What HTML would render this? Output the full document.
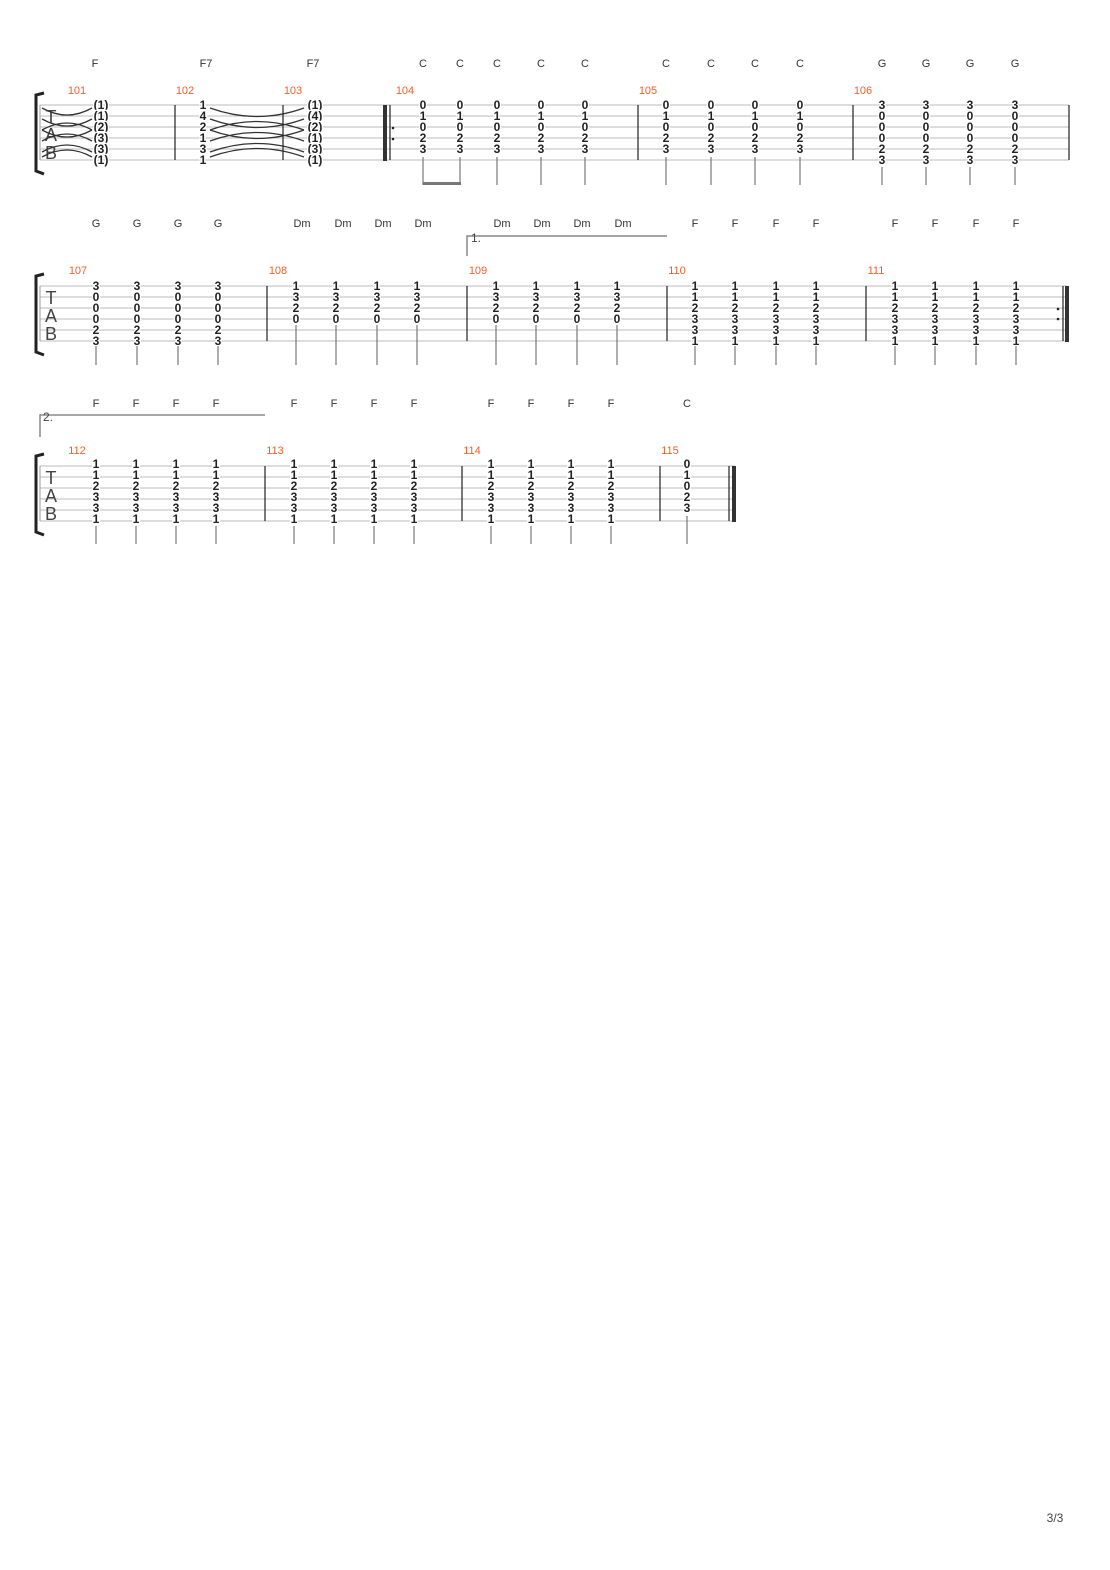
<!DOCTYPE html>
<html><head><meta charset="utf-8"><style>
html,body{margin:0;padding:0;background:#fff}
svg{display:block}
.c{font:11px "Liberation Sans",sans-serif;fill:#333;text-anchor:middle}
.m{font:11px "Liberation Sans",sans-serif;fill:#f0602a;text-anchor:middle}
.n{font:bold 12px "Liberation Sans",sans-serif;fill:#222;text-anchor:middle;stroke:#fff;stroke-width:2.5px;paint-order:stroke}
.t{font:18px "Liberation Sans",sans-serif;fill:#444;text-anchor:middle}
.l{stroke:#bbb;stroke-width:1}
.b{stroke:#222;stroke-width:1.2}
.s{stroke:#777;stroke-width:1.2}
.v{stroke:#888;stroke-width:1.5;fill:none}
.cv{stroke:#333;stroke-width:1.3;fill:none}
</style></head><body>
<svg width="1110" height="1570" viewBox="0 0 1110 1570" xmlns="http://www.w3.org/2000/svg">
<!-- ===== SYSTEM 1 ===== -->
<g>
<line class="l" x1="40" y1="105" x2="1069" y2="105"/><line class="l" x1="40" y1="116" x2="1069" y2="116"/><line class="l" x1="40" y1="127" x2="1069" y2="127"/><line class="l" x1="40" y1="138" x2="1069" y2="138"/><line class="l" x1="40" y1="149" x2="1069" y2="149"/><line class="l" x1="40" y1="160" x2="1069" y2="160"/>
<path d="M44 93 L36 95 L36 171 L44 174" stroke="#222" stroke-width="3" fill="none"/>
<line x1="40" y1="105" x2="40" y2="160" stroke="#999"/>
<text class="t" x="51" y="123">T</text><text class="t" x="51" y="141">A</text><text class="t" x="51" y="159">B</text>
<path class="cv" d="M42 108 Q67 122 92 108 M42 119 Q67 133 92 119 M42 130 Q67 116 92 130 M42 130 Q67 144 92 130 M42 141 Q67 127 92 141 M42 152 Q67 138 92 152 M42 157 Q67 143 92 157" />
<path class="cv" d="M210 108 Q257 125 304 108 M210 119 Q257 136 304 119 M210 130 Q257 113 304 130 M210 130 Q257 147 304 130 M210 141 Q257 124 304 141 M210 152 Q257 135 304 152 M210 157 Q257 140 304 157"/>
<line class="b" x1="175" y1="105" x2="175" y2="160"/><line class="b" x1="283" y1="105" x2="283" y2="160"/>
<rect x="383" y="105" width="4" height="56" fill="#333"/><line class="b" x1="390" y1="105" x2="390" y2="160"/>
<circle cx="393" cy="128" r="1.3" fill="#222"/><circle cx="393" cy="139" r="1.3" fill="#222"/>
<line class="b" x1="638" y1="105" x2="638" y2="160"/><line class="b" x1="853" y1="105" x2="853" y2="160"/><line class="b" x1="1069" y1="105" x2="1069" y2="160"/>
<text class="m" x="77" y="94">101</text><text class="m" x="185" y="94">102</text><text class="m" x="293" y="94">103</text><text class="m" x="405" y="94">104</text><text class="m" x="648" y="94">105</text><text class="m" x="863" y="94">106</text>
<text class="c" x="95" y="67">F</text><text class="c" x="206" y="67">F7</text><text class="c" x="313" y="67">F7</text>
<text class="c" x="423" y="67">C</text><text class="c" x="460" y="67">C</text><text class="c" x="497" y="67">C</text><text class="c" x="541" y="67">C</text><text class="c" x="585" y="67">C</text>
<text class="c" x="666" y="67">C</text><text class="c" x="711" y="67">C</text><text class="c" x="755" y="67">C</text><text class="c" x="800" y="67">C</text>
<text class="c" x="882" y="67">G</text><text class="c" x="926" y="67">G</text><text class="c" x="970" y="67">G</text><text class="c" x="1015" y="67">G</text>
<!-- m101 -->
<text class="n" x="101" y="109">(1)</text><text class="n" x="101" y="120">(1)</text><text class="n" x="101" y="131">(2)</text><text class="n" x="101" y="142">(3)</text><text class="n" x="101" y="153">(3)</text><text class="n" x="101" y="164">(1)</text>
<text class="n" x="203" y="109">1</text><text class="n" x="203" y="120">4</text><text class="n" x="203" y="131">2</text><text class="n" x="203" y="142">1</text><text class="n" x="203" y="153">3</text><text class="n" x="203" y="164">1</text>
<text class="n" x="315" y="109">(1)</text><text class="n" x="315" y="120">(4)</text><text class="n" x="315" y="131">(2)</text><text class="n" x="315" y="142">(1)</text><text class="n" x="315" y="153">(3)</text><text class="n" x="315" y="164">(1)</text>
<!-- m104 / 105 -->
<g id="cA">
<text class="n" x="423" y="109">0</text><text class="n" x="423" y="120">1</text><text class="n" x="423" y="131">0</text><text class="n" x="423" y="142">2</text><text class="n" x="423" y="153">3</text>
<text class="n" x="460" y="109">0</text><text class="n" x="460" y="120">1</text><text class="n" x="460" y="131">0</text><text class="n" x="460" y="142">2</text><text class="n" x="460" y="153">3</text>
<text class="n" x="497" y="109">0</text><text class="n" x="497" y="120">1</text><text class="n" x="497" y="131">0</text><text class="n" x="497" y="142">2</text><text class="n" x="497" y="153">3</text>
<text class="n" x="541" y="109">0</text><text class="n" x="541" y="120">1</text><text class="n" x="541" y="131">0</text><text class="n" x="541" y="142">2</text><text class="n" x="541" y="153">3</text>
<text class="n" x="585" y="109">0</text><text class="n" x="585" y="120">1</text><text class="n" x="585" y="131">0</text><text class="n" x="585" y="142">2</text><text class="n" x="585" y="153">3</text>
<text class="n" x="666" y="109">0</text><text class="n" x="666" y="120">1</text><text class="n" x="666" y="131">0</text><text class="n" x="666" y="142">2</text><text class="n" x="666" y="153">3</text>
<text class="n" x="711" y="109">0</text><text class="n" x="711" y="120">1</text><text class="n" x="711" y="131">0</text><text class="n" x="711" y="142">2</text><text class="n" x="711" y="153">3</text>
<text class="n" x="755" y="109">0</text><text class="n" x="755" y="120">1</text><text class="n" x="755" y="131">0</text><text class="n" x="755" y="142">2</text><text class="n" x="755" y="153">3</text>
<text class="n" x="800" y="109">0</text><text class="n" x="800" y="120">1</text><text class="n" x="800" y="131">0</text><text class="n" x="800" y="142">2</text><text class="n" x="800" y="153">3</text>
</g>
<line class="s" x1="423" y1="157" x2="423" y2="185"/><line class="s" x1="460" y1="157" x2="460" y2="185"/>
<rect x="423" y="182" width="38" height="3" fill="#777"/>
<line class="s" x1="497" y1="157" x2="497" y2="185"/><line class="s" x1="541" y1="157" x2="541" y2="185"/><line class="s" x1="585" y1="157" x2="585" y2="185"/>
<line class="s" x1="666" y1="157" x2="666" y2="185"/><line class="s" x1="711" y1="157" x2="711" y2="185"/><line class="s" x1="755" y1="157" x2="755" y2="185"/><line class="s" x1="800" y1="157" x2="800" y2="185"/>
<!-- m106 -->
<text class="n" x="882" y="109">3</text><text class="n" x="882" y="120">0</text><text class="n" x="882" y="131">0</text><text class="n" x="882" y="142">0</text><text class="n" x="882" y="153">2</text><text class="n" x="882" y="164">3</text>
<text class="n" x="926" y="109">3</text><text class="n" x="926" y="120">0</text><text class="n" x="926" y="131">0</text><text class="n" x="926" y="142">0</text><text class="n" x="926" y="153">2</text><text class="n" x="926" y="164">3</text>
<text class="n" x="970" y="109">3</text><text class="n" x="970" y="120">0</text><text class="n" x="970" y="131">0</text><text class="n" x="970" y="142">0</text><text class="n" x="970" y="153">2</text><text class="n" x="970" y="164">3</text>
<text class="n" x="1015" y="109">3</text><text class="n" x="1015" y="120">0</text><text class="n" x="1015" y="131">0</text><text class="n" x="1015" y="142">0</text><text class="n" x="1015" y="153">2</text><text class="n" x="1015" y="164">3</text>
<line class="s" x1="882" y1="167" x2="882" y2="185"/><line class="s" x1="926" y1="167" x2="926" y2="185"/><line class="s" x1="970" y1="167" x2="970" y2="185"/><line class="s" x1="1015" y1="167" x2="1015" y2="185"/>
</g>

<!-- ===== SYSTEM 2 ===== -->
<g>
<line class="l" x1="40" y1="286" x2="1067" y2="286"/><line class="l" x1="40" y1="297" x2="1067" y2="297"/><line class="l" x1="40" y1="308" x2="1067" y2="308"/><line class="l" x1="40" y1="319" x2="1067" y2="319"/><line class="l" x1="40" y1="330" x2="1067" y2="330"/><line class="l" x1="40" y1="341" x2="1067" y2="341"/>
<path d="M44 274 L36 276 L36 352 L44 355" stroke="#222" stroke-width="3" fill="none"/>
<line x1="40" y1="286" x2="40" y2="341" stroke="#999"/>
<text class="t" x="51" y="304">T</text><text class="t" x="51" y="322">A</text><text class="t" x="51" y="340">B</text>
<line class="b" x1="267" y1="286" x2="267" y2="341"/><line class="b" x1="467" y1="286" x2="467" y2="341"/><line class="b" x1="667" y1="286" x2="667" y2="341"/><line class="b" x1="866" y1="286" x2="866" y2="341"/>
<circle cx="1058" cy="309" r="1.3" fill="#222"/><circle cx="1058" cy="319" r="1.3" fill="#222"/>
<line class="b" x1="1063" y1="286" x2="1063" y2="341" stroke="#888"/><rect x="1065" y="286" width="4" height="56" fill="#333"/>
<text class="m" x="78" y="274">107</text><text class="m" x="278" y="274">108</text><text class="m" x="478" y="274">109</text><text class="m" x="677" y="274">110</text><text class="m" x="876" y="274">111</text>
<text class="c" x="96" y="227">G</text><text class="c" x="137" y="227">G</text><text class="c" x="178" y="227">G</text><text class="c" x="218" y="227">G</text>
<text class="c" x="302" y="227">Dm</text><text class="c" x="343" y="227">Dm</text><text class="c" x="383" y="227">Dm</text><text class="c" x="423" y="227">Dm</text>
<text class="c" x="502" y="227">Dm</text><text class="c" x="542" y="227">Dm</text><text class="c" x="582" y="227">Dm</text><text class="c" x="623" y="227">Dm</text>
<text class="c" x="695" y="227">F</text><text class="c" x="735" y="227">F</text><text class="c" x="776" y="227">F</text><text class="c" x="816" y="227">F</text>
<text class="c" x="895" y="227">F</text><text class="c" x="935" y="227">F</text><text class="c" x="976" y="227">F</text><text class="c" x="1016" y="227">F</text>
<path class="v" d="M467 256 L467 236 L667 236"/><text x="471" y="242" font-family="Liberation Sans,sans-serif" font-size="12" fill="#444">1.</text>
<!-- m107 -->
<text class="n" x="96" y="290">3</text><text class="n" x="96" y="301">0</text><text class="n" x="96" y="312">0</text><text class="n" x="96" y="323">0</text><text class="n" x="96" y="334">2</text><text class="n" x="96" y="345">3</text>
<text class="n" x="137" y="290">3</text><text class="n" x="137" y="301">0</text><text class="n" x="137" y="312">0</text><text class="n" x="137" y="323">0</text><text class="n" x="137" y="334">2</text><text class="n" x="137" y="345">3</text>
<text class="n" x="178" y="290">3</text><text class="n" x="178" y="301">0</text><text class="n" x="178" y="312">0</text><text class="n" x="178" y="323">0</text><text class="n" x="178" y="334">2</text><text class="n" x="178" y="345">3</text>
<text class="n" x="218" y="290">3</text><text class="n" x="218" y="301">0</text><text class="n" x="218" y="312">0</text><text class="n" x="218" y="323">0</text><text class="n" x="218" y="334">2</text><text class="n" x="218" y="345">3</text>
<line class="s" x1="96" y1="346" x2="96" y2="365"/><line class="s" x1="137" y1="346" x2="137" y2="365"/><line class="s" x1="178" y1="346" x2="178" y2="365"/><line class="s" x1="218" y1="346" x2="218" y2="365"/>
<!-- m108/109 -->
<text class="n" x="296" y="290">1</text><text class="n" x="296" y="301">3</text><text class="n" x="296" y="312">2</text><text class="n" x="296" y="323">0</text>
<text class="n" x="336" y="290">1</text><text class="n" x="336" y="301">3</text><text class="n" x="336" y="312">2</text><text class="n" x="336" y="323">0</text>
<text class="n" x="377" y="290">1</text><text class="n" x="377" y="301">3</text><text class="n" x="377" y="312">2</text><text class="n" x="377" y="323">0</text>
<text class="n" x="417" y="290">1</text><text class="n" x="417" y="301">3</text><text class="n" x="417" y="312">2</text><text class="n" x="417" y="323">0</text>
<text class="n" x="496" y="290">1</text><text class="n" x="496" y="301">3</text><text class="n" x="496" y="312">2</text><text class="n" x="496" y="323">0</text>
<text class="n" x="536" y="290">1</text><text class="n" x="536" y="301">3</text><text class="n" x="536" y="312">2</text><text class="n" x="536" y="323">0</text>
<text class="n" x="577" y="290">1</text><text class="n" x="577" y="301">3</text><text class="n" x="577" y="312">2</text><text class="n" x="577" y="323">0</text>
<text class="n" x="617" y="290">1</text><text class="n" x="617" y="301">3</text><text class="n" x="617" y="312">2</text><text class="n" x="617" y="323">0</text>
<line class="s" x1="296" y1="325" x2="296" y2="365"/><line class="s" x1="336" y1="325" x2="336" y2="365"/><line class="s" x1="377" y1="325" x2="377" y2="365"/><line class="s" x1="417" y1="325" x2="417" y2="365"/>
<line class="s" x1="496" y1="325" x2="496" y2="365"/><line class="s" x1="536" y1="325" x2="536" y2="365"/><line class="s" x1="577" y1="325" x2="577" y2="365"/><line class="s" x1="617" y1="325" x2="617" y2="365"/>
<!-- m110/111 -->
<text class="n" x="695" y="290">1</text><text class="n" x="695" y="301">1</text><text class="n" x="695" y="312">2</text><text class="n" x="695" y="323">3</text><text class="n" x="695" y="334">3</text><text class="n" x="695" y="345">1</text>
<text class="n" x="735" y="290">1</text><text class="n" x="735" y="301">1</text><text class="n" x="735" y="312">2</text><text class="n" x="735" y="323">3</text><text class="n" x="735" y="334">3</text><text class="n" x="735" y="345">1</text>
<text class="n" x="776" y="290">1</text><text class="n" x="776" y="301">1</text><text class="n" x="776" y="312">2</text><text class="n" x="776" y="323">3</text><text class="n" x="776" y="334">3</text><text class="n" x="776" y="345">1</text>
<text class="n" x="816" y="290">1</text><text class="n" x="816" y="301">1</text><text class="n" x="816" y="312">2</text><text class="n" x="816" y="323">3</text><text class="n" x="816" y="334">3</text><text class="n" x="816" y="345">1</text>
<text class="n" x="895" y="290">1</text><text class="n" x="895" y="301">1</text><text class="n" x="895" y="312">2</text><text class="n" x="895" y="323">3</text><text class="n" x="895" y="334">3</text><text class="n" x="895" y="345">1</text>
<text class="n" x="935" y="290">1</text><text class="n" x="935" y="301">1</text><text class="n" x="935" y="312">2</text><text class="n" x="935" y="323">3</text><text class="n" x="935" y="334">3</text><text class="n" x="935" y="345">1</text>
<text class="n" x="976" y="290">1</text><text class="n" x="976" y="301">1</text><text class="n" x="976" y="312">2</text><text class="n" x="976" y="323">3</text><text class="n" x="976" y="334">3</text><text class="n" x="976" y="345">1</text>
<text class="n" x="1016" y="290">1</text><text class="n" x="1016" y="301">1</text><text class="n" x="1016" y="312">2</text><text class="n" x="1016" y="323">3</text><text class="n" x="1016" y="334">3</text><text class="n" x="1016" y="345">1</text>
<line class="s" x1="695" y1="346" x2="695" y2="365"/><line class="s" x1="735" y1="346" x2="735" y2="365"/><line class="s" x1="776" y1="346" x2="776" y2="365"/><line class="s" x1="816" y1="346" x2="816" y2="365"/>
<line class="s" x1="895" y1="346" x2="895" y2="365"/><line class="s" x1="935" y1="346" x2="935" y2="365"/><line class="s" x1="976" y1="346" x2="976" y2="365"/><line class="s" x1="1016" y1="346" x2="1016" y2="365"/>
</g>

<!-- ===== SYSTEM 3 ===== -->
<g>
<line class="l" x1="40" y1="466" x2="735" y2="466"/><line class="l" x1="40" y1="477" x2="735" y2="477"/><line class="l" x1="40" y1="488" x2="735" y2="488"/><line class="l" x1="40" y1="499" x2="735" y2="499"/><line class="l" x1="40" y1="510" x2="735" y2="510"/><line class="l" x1="40" y1="521" x2="735" y2="521"/>
<path d="M44 454 L36 456 L36 532 L44 535" stroke="#222" stroke-width="3" fill="none"/>
<line x1="40" y1="466" x2="40" y2="521" stroke="#999"/>
<text class="t" x="51" y="484">T</text><text class="t" x="51" y="502">A</text><text class="t" x="51" y="520">B</text>
<line class="b" x1="265" y1="466" x2="265" y2="521"/><line class="b" x1="462" y1="466" x2="462" y2="521"/><line class="b" x1="660" y1="466" x2="660" y2="521"/>
<line class="b" x1="729" y1="466" x2="729" y2="521"/><rect x="732" y="466" width="4" height="56" fill="#333"/>
<text class="m" x="77" y="454">112</text><text class="m" x="275" y="454">113</text><text class="m" x="472" y="454">114</text><text class="m" x="670" y="454">115</text>
<path class="v" d="M40 437 L40 415 L265 415"/><text x="43" y="421" font-family="Liberation Sans,sans-serif" font-size="12" fill="#444">2.</text>
<text class="c" x="96" y="407">F</text><text class="c" x="136" y="407">F</text><text class="c" x="176" y="407">F</text><text class="c" x="216" y="407">F</text>
<text class="c" x="294" y="407">F</text><text class="c" x="334" y="407">F</text><text class="c" x="374" y="407">F</text><text class="c" x="414" y="407">F</text>
<text class="c" x="491" y="407">F</text><text class="c" x="531" y="407">F</text><text class="c" x="571" y="407">F</text><text class="c" x="611" y="407">F</text>
<text class="c" x="687" y="407">C</text>
<text class="n" x="96" y="468">1</text><text class="n" x="96" y="479">1</text><text class="n" x="96" y="490">2</text><text class="n" x="96" y="501">3</text><text class="n" x="96" y="512">3</text><text class="n" x="96" y="523">1</text>
<text class="n" x="136" y="468">1</text><text class="n" x="136" y="479">1</text><text class="n" x="136" y="490">2</text><text class="n" x="136" y="501">3</text><text class="n" x="136" y="512">3</text><text class="n" x="136" y="523">1</text>
<text class="n" x="176" y="468">1</text><text class="n" x="176" y="479">1</text><text class="n" x="176" y="490">2</text><text class="n" x="176" y="501">3</text><text class="n" x="176" y="512">3</text><text class="n" x="176" y="523">1</text>
<text class="n" x="216" y="468">1</text><text class="n" x="216" y="479">1</text><text class="n" x="216" y="490">2</text><text class="n" x="216" y="501">3</text><text class="n" x="216" y="512">3</text><text class="n" x="216" y="523">1</text>
<text class="n" x="294" y="468">1</text><text class="n" x="294" y="479">1</text><text class="n" x="294" y="490">2</text><text class="n" x="294" y="501">3</text><text class="n" x="294" y="512">3</text><text class="n" x="294" y="523">1</text>
<text class="n" x="334" y="468">1</text><text class="n" x="334" y="479">1</text><text class="n" x="334" y="490">2</text><text class="n" x="334" y="501">3</text><text class="n" x="334" y="512">3</text><text class="n" x="334" y="523">1</text>
<text class="n" x="374" y="468">1</text><text class="n" x="374" y="479">1</text><text class="n" x="374" y="490">2</text><text class="n" x="374" y="501">3</text><text class="n" x="374" y="512">3</text><text class="n" x="374" y="523">1</text>
<text class="n" x="414" y="468">1</text><text class="n" x="414" y="479">1</text><text class="n" x="414" y="490">2</text><text class="n" x="414" y="501">3</text><text class="n" x="414" y="512">3</text><text class="n" x="414" y="523">1</text>
<text class="n" x="491" y="468">1</text><text class="n" x="491" y="479">1</text><text class="n" x="491" y="490">2</text><text class="n" x="491" y="501">3</text><text class="n" x="491" y="512">3</text><text class="n" x="491" y="523">1</text>
<text class="n" x="531" y="468">1</text><text class="n" x="531" y="479">1</text><text class="n" x="531" y="490">2</text><text class="n" x="531" y="501">3</text><text class="n" x="531" y="512">3</text><text class="n" x="531" y="523">1</text>
<text class="n" x="571" y="468">1</text><text class="n" x="571" y="479">1</text><text class="n" x="571" y="490">2</text><text class="n" x="571" y="501">3</text><text class="n" x="571" y="512">3</text><text class="n" x="571" y="523">1</text>
<text class="n" x="611" y="468">1</text><text class="n" x="611" y="479">1</text><text class="n" x="611" y="490">2</text><text class="n" x="611" y="501">3</text><text class="n" x="611" y="512">3</text><text class="n" x="611" y="523">1</text>
<text class="n" x="687" y="468">0</text><text class="n" x="687" y="479">1</text><text class="n" x="687" y="490">0</text><text class="n" x="687" y="501">2</text><text class="n" x="687" y="512">3</text>
<line class="s" x1="96" y1="526" x2="96" y2="544"/><line class="s" x1="136" y1="526" x2="136" y2="544"/><line class="s" x1="176" y1="526" x2="176" y2="544"/><line class="s" x1="216" y1="526" x2="216" y2="544"/>
<line class="s" x1="294" y1="526" x2="294" y2="544"/><line class="s" x1="334" y1="526" x2="334" y2="544"/><line class="s" x1="374" y1="526" x2="374" y2="544"/><line class="s" x1="414" y1="526" x2="414" y2="544"/>
<line class="s" x1="491" y1="526" x2="491" y2="544"/><line class="s" x1="531" y1="526" x2="531" y2="544"/><line class="s" x1="571" y1="526" x2="571" y2="544"/><line class="s" x1="611" y1="526" x2="611" y2="544"/>
<line class="s" x1="687" y1="516" x2="687" y2="544"/>
</g>
<text x="1055" y="1522" font-family="Liberation Sans,sans-serif" font-size="12" fill="#444" text-anchor="middle">3/3</text>
</svg>
</body></html>
